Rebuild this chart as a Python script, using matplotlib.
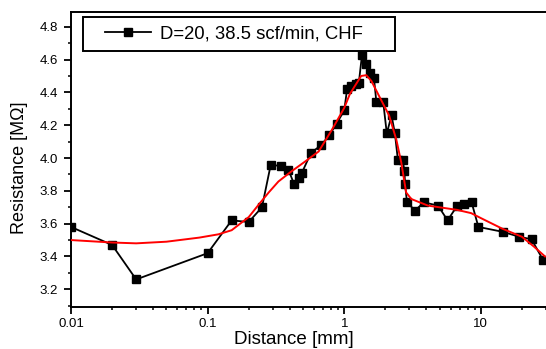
import numpy as np
import matplotlib
matplotlib.use("Agg")
import matplotlib.pyplot as plt
from matplotlib.lines import Line2D
from matplotlib.legend_handler import HandlerLine2D
from matplotlib.ticker import FixedLocator, LogLocator, NullFormatter, FuncFormatter, MultipleLocator

plt.rcParams['font.family'] = ['Liberation Sans', 'DejaVu Sans']

# measured data (black squares)
dist = [0.01, 0.02, 0.03, 0.1, 0.15, 0.2, 0.25, 0.29, 0.345, 0.39, 0.43, 0.47, 0.49,
        0.57, 0.68, 0.78, 0.88, 1.0, 1.05, 1.13, 1.22, 1.28, 1.35, 1.45, 1.55, 1.65,
        1.72, 1.93, 2.05, 2.22, 2.35, 2.47, 2.68, 2.76, 2.79, 2.88, 3.3, 3.83, 4.86,
        5.71, 6.73, 7.54, 8.56, 9.6, 14.5, 19.1, 23.5, 28.5]
resist = [3.58, 3.47, 3.26, 3.42, 3.62, 3.61, 3.70, 3.96, 3.95, 3.93, 3.84, 3.88, 3.91,
          4.03, 4.08, 4.14, 4.21, 4.29, 4.42, 4.44, 4.45, 4.46, 4.63, 4.57, 4.52, 4.49,
          4.34, 4.34, 4.15, 4.26, 4.15, 3.99, 3.99, 3.92, 3.84, 3.73, 3.68, 3.73, 3.71,
          3.62, 3.71, 3.72, 3.73, 3.58, 3.55, 3.52, 3.505, 3.38]

# smoothed curve (red)
smooth_x = [0.01, 0.02, 0.03, 0.05, 0.087, 0.12, 0.15, 0.2, 0.236, 0.28, 0.33, 0.41,
            0.52, 0.65, 0.81, 1.0, 1.1, 1.33, 1.45, 1.58, 1.82, 2.13, 2.41, 2.62, 2.84,
            3.1, 4.1, 6.7, 8.5, 10, 14.3, 20, 24.5, 29.5]
smooth_y = [3.50, 3.485, 3.48, 3.49, 3.515, 3.535, 3.56, 3.64, 3.715, 3.79, 3.857, 3.918,
            3.98, 4.04, 4.17, 4.305, 4.39, 4.50, 4.505, 4.47, 4.37, 4.26, 4.11, 3.97, 3.79,
            3.75, 3.71, 3.684, 3.664, 3.634, 3.57, 3.52, 3.46, 3.40]

legend_label = "D=20, 38.5 scf/min, CHF"
x_ticks = [0.01, 0.1, 1, 10]
x_ticklabels = ["0.01", "0.1", "1", "10"]

fig = plt.figure(figsize=(5.46, 3.49), dpi=100)
ax = fig.add_axes([71 / 546, 1 - 307 / 349, 475 / 546, (307 - 11.5) / 349])

ax.plot(dist, resist, color='black', lw=1.3, marker='s', ms=5.5,
        markeredgecolor='black', label=legend_label, zorder=2)
ax.plot(smooth_x, smooth_y, color='red', lw=1.4, zorder=3)

ax.set_xscale('log')
ax.set_xlim(0.01, 30)
ax.set_ylim(3.092, 4.893)

ax.xaxis.set_major_locator(FixedLocator(x_ticks))
ax.xaxis.set_major_formatter(FuncFormatter(lambda v, p: x_ticklabels[x_ticks.index(v)] if v in x_ticks else ""))
ax.xaxis.set_minor_locator(LogLocator(base=10, subs=np.arange(2, 10), numticks=20))
ax.xaxis.set_minor_formatter(NullFormatter())
ax.yaxis.set_major_locator(MultipleLocator(0.2))
ax.yaxis.set_minor_locator(MultipleLocator(0.1))
ax.yaxis.set_major_formatter(FuncFormatter(lambda v, p: f"{v:.1f}"))

ax.tick_params(which='major', direction='out', length=5, width=1.3, labelsize=9.5, pad=3)
ax.tick_params(axis='y', which='major', pad=4.5)
ax.tick_params(which='minor', direction='out', length=2.5, width=1.1)
ax.tick_params(top=False, right=False, which='both')

for side in ['left', 'bottom', 'top']:
    ax.spines[side].set_linewidth(1.4)
ax.spines['right'].set_visible(False)

ax.set_xlabel("Distance [mm]", fontsize=13.5)
ax.set_ylabel("Resistance [M\u03a9]", fontsize=13)
ax.xaxis.set_label_coords(0.469, -0.082)
ax.yaxis.set_label_coords(-0.09, 0.472)

leg = ax.legend(loc='upper left', bbox_to_anchor=(0.025, 0.5, 0.657, 0.481), mode='expand',
                borderaxespad=0, fancybox=False, edgecolor='black', fontsize=13.3,
                handlelength=3.25, borderpad=0.45, handletextpad=0.45, framealpha=1,
                handler_map={Line2D: HandlerLine2D(xpad=0.76)})
leg.get_frame().set_linewidth(1.4)

fig.savefig("out.png", dpi=100)
